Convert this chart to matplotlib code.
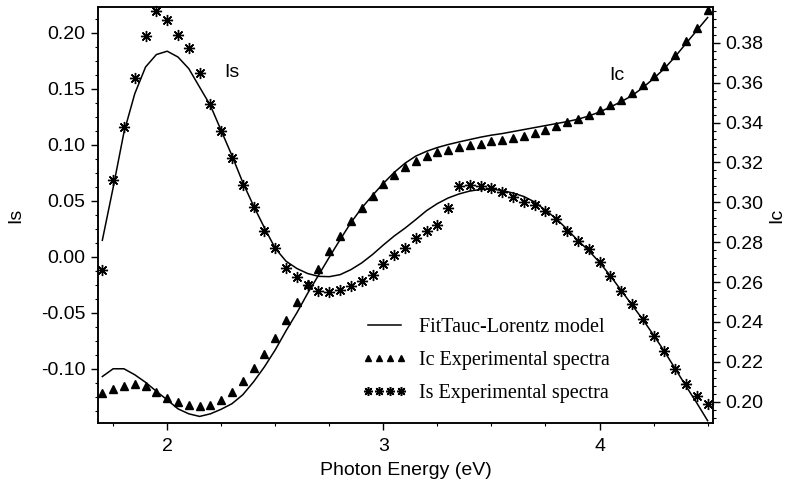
import matplotlib
matplotlib.use("Agg")
import matplotlib.pyplot as plt
from matplotlib.ticker import AutoMinorLocator, MultipleLocator, FormatStrFormatter
from matplotlib.lines import Line2D

plt.rcParams['font.family'] = ['Liberation Sans', 'DejaVu Sans']
plt.rcParams['axes.unicode_minus'] = False

# photon energy grid (eV), 0.05 eV steps
energy = [1.70 + 0.05 * i for i in range(57)]

# experimental spectra
is_exp = [-0.0122, 0.0686, 0.1156, 0.1596, 0.1973, 0.2195, 0.2114, 0.1979, 0.1865, 0.1644,
          0.1362, 0.1126, 0.0886, 0.0641, 0.0446, 0.0228, 0.0075, -0.0101, -0.0182, -0.0250,
          -0.0304, -0.0313, -0.0299, -0.0259, -0.0221, -0.0161, -0.0065, 0.0013, 0.0078, 0.0163,
          0.0228, 0.0288, 0.0437, 0.0632, 0.0641, 0.0632, 0.0617, 0.0581, 0.0536, 0.0489,
          0.0462, 0.0408, 0.0336, 0.0228, 0.0138, 0.0067, -0.0047, -0.0170, -0.0302, -0.0425,
          -0.0559, -0.0706, -0.0843, -0.0999, -0.1134, -0.1247, -0.1319]
ic_exp = [0.2043, 0.2063, 0.2080, 0.2090, 0.2080, 0.2046, 0.2018, 0.1998, 0.1981, 0.1976,
          0.1984, 0.2009, 0.2051, 0.2105, 0.2168, 0.2239, 0.2319, 0.2411, 0.2498, 0.2592,
          0.2667, 0.2754, 0.2833, 0.2904, 0.2972, 0.3033, 0.3092, 0.3135, 0.3178, 0.3206,
          0.3231, 0.3251, 0.3261, 0.3278, 0.3289, 0.3294, 0.3306, 0.3315, 0.3323, 0.3331,
          0.3348, 0.3361, 0.3381, 0.3401, 0.3420, 0.3440, 0.3462, 0.3490, 0.3515, 0.3549,
          0.3591, 0.3632, 0.3683, 0.3741, 0.3808, 0.3875, 0.3967]

# Tauc-Lorentz fit
is_fit = [0.0147, 0.0617, 0.1111, 0.1456, 0.1695, 0.1806, 0.1836, 0.1784, 0.1680, 0.1515,
          0.1351, 0.1126, 0.0902, 0.0662, 0.0453, 0.0258, 0.0075, -0.0040, -0.0105, -0.0150,
          -0.0175, -0.0178, -0.0160, -0.0115, -0.0055, 0.0020, 0.0105, 0.0185, 0.0255, 0.0332,
          0.0412, 0.0475, 0.0525, 0.0561, 0.0587, 0.0601, 0.0603, 0.0592, 0.0569, 0.0538,
          0.0489, 0.0415, 0.0340, 0.0245, 0.0145, 0.0055, -0.0050, -0.0170, -0.0300, -0.0430,
          -0.0560, -0.0700, -0.0845, -0.1000, -0.1155, -0.1306, -0.1464]
ic_fit = [0.2126, 0.2165, 0.2165, 0.2135, 0.2097, 0.2052, 0.2009, 0.1964, 0.1939, 0.1926,
          0.1939, 0.1962, 0.1990, 0.2035, 0.2100, 0.2175, 0.2260, 0.2356, 0.2446, 0.2544,
          0.2634, 0.2725, 0.2813, 0.2898, 0.2972, 0.3035, 0.3095, 0.3150, 0.3196, 0.3232,
          0.3256, 0.3275, 0.3290, 0.3303, 0.3315, 0.3327, 0.3337, 0.3345, 0.3355, 0.3365,
          0.3375, 0.3385, 0.3395, 0.3405, 0.3417, 0.3433, 0.3453, 0.3478, 0.3505, 0.3535,
          0.3575, 0.3621, 0.3671, 0.3731, 0.3797, 0.3862, 0.3927]

star = (8, 2, 0)

fig = plt.figure(figsize=(7.91, 4.88), dpi=100)
ax = fig.add_axes([0.1239, 0.1332, 0.7775, 0.8525])
ax2 = ax.twinx()

ax.plot(energy, is_fit, color='black', lw=1.1)
ax.plot(energy, is_exp, ls='none', marker=star, ms=8, mew=1.0, color='black', clip_on=False)
ax2.plot(energy, ic_fit, color='black', lw=1.1)
ax2.plot(energy, ic_exp, ls='none', marker='^', ms=6, color='black', clip_on=False)

ax.set_xlim(1.68, 4.525)
ax.set_ylim(-0.1485, 0.2231)
ax2.set_ylim(0.1893, 0.398)

ax.xaxis.set_major_locator(MultipleLocator(1))
ax.xaxis.set_minor_locator(AutoMinorLocator(4))
ax.yaxis.set_major_locator(MultipleLocator(0.05))
ax.yaxis.set_minor_locator(AutoMinorLocator(4))
ax.yaxis.set_major_formatter(FormatStrFormatter('%.2f'))
ax2.yaxis.set_major_locator(MultipleLocator(0.02))
ax2.yaxis.set_minor_locator(AutoMinorLocator(5))
ax2.yaxis.set_major_formatter(FormatStrFormatter('%.2f'))

for a in (ax, ax2):
    a.tick_params(which='major', direction='out', length=5, width=1, labelsize=14, pad=4)
    a.tick_params(which='minor', direction='out', length=2.5, width=0.8)
    for s in a.spines.values():
        s.set_linewidth(1.1)
ax.tick_params(axis='x', which='major', pad=6)

ax.set_xlabel('Photon Energy (eV)', fontsize=14, labelpad=5)
ax.set_ylabel('Is', fontsize=14, labelpad=12)
ax2.set_ylabel('Ic', fontsize=14, labelpad=3)

ax.text(2.30, 0.165, 'Is', fontsize=14, ha='center', va='center')
ax2.text(4.08, 0.3636, 'Ic', fontsize=14, ha='center', va='center')

handles = [
    Line2D([], [], color='black', lw=1.1),
    Line2D([], [], ls='none', marker='^', ms=5, color='black'),
    Line2D([], [], ls='none', marker=star, ms=6.5, mew=1.1, color='black'),
]
labels = ['FitTauc-Lorentz model', 'Ic Experimental spectra', 'Is Experimental spectra']
ax.legend(handles, labels, loc='upper left', bbox_to_anchor=(0.43, 0.252),
          frameon=False, numpoints=4, borderpad=0, borderaxespad=0,
          handlelength=2.2, handletextpad=0.6, labelspacing=0.68,
          prop={'family': 'Liberation Serif', 'size': 14.5})

fig.savefig('out.png', dpi=100)
